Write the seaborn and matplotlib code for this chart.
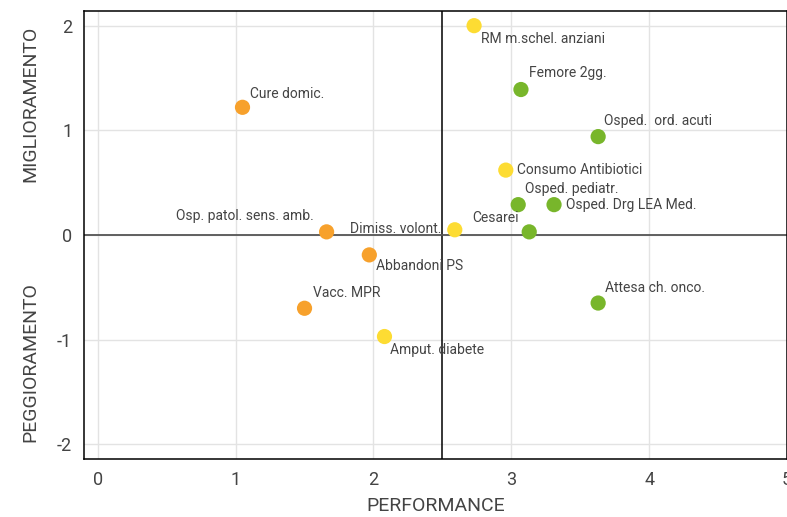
import matplotlib
matplotlib.use("Agg")
import matplotlib.pyplot as plt
import pandas as pd
import seaborn as sns

# dati
indicatori = [
    "Cure domic.", "Osp. patol. sens. amb.", "Dimiss. volont.", "Abbandoni PS",
    "Vacc. MPR", "Amput. diabete", "RM m.schel. anziani", "Femore 2gg.",
    "Osped.  ord. acuti", "Consumo Antibiotici", "Osped. pediatr.",
    "Osped. Drg LEA Med.", "Cesarei", "Attesa ch. onco.",
]
performance = [1.05, 1.66, 2.59, 1.97, 1.50, 2.08, 2.73, 3.07, 3.63, 2.96, 3.05, 3.31, 3.13, 3.63]
variazione = [1.22, 0.03, 0.05, -0.19, -0.70, -0.97, 2.00, 1.39, 0.94, 0.62, 0.29, 0.29, 0.03, -0.65]
fascia = ["bassa", "bassa", "media", "bassa", "bassa", "media", "media", "alta",
          "alta", "media", "alta", "alta", "alta", "alta"]

colori = {"bassa": "#F7A12C", "media": "#FDDC33", "alta": "#78B62B"}

# offset etichette in pixel (dx, dy, allineamento)
offset = {
    "Cure domic.": (8, 13, "left"),
    "Osp. patol. sens. amb.": (-13, 16, "right"),
    "Dimiss. volont.": (-13, 1, "right"),
    "Abbandoni PS": (7, -11, "left"),
    "Vacc. MPR": (8, 15, "left"),
    "Amput. diabete": (6, -13, "left"),
    "RM m.schel. anziani": (7, -13, "left"),
    "Femore 2gg.": (8, 17, "left"),
    "Osped.  ord. acuti": (6, 16, "left"),
    "Consumo Antibiotici": (11, 0, "left"),
    "Osped. pediatr.": (7, 16, "left"),
    "Osped. Drg LEA Med.": (12, 0, "left"),
    "Cesarei": (-10, 14, "right"),
    "Attesa ch. onco.": (7, 15, "left"),
}

df = pd.DataFrame({"nome": indicatori, "x": performance, "y": variazione, "fascia": fascia})

sns.set_style("white")
plt.rcParams["font.family"] = ["Roboto", "DejaVu Sans"]
testo = "#444444"

fig = plt.figure(figsize=(7.87, 5.17), dpi=100)
ax = fig.add_axes([0.1067, 0.1122, 0.8933, 0.8665])

ax.grid(True, color="#e3e3e3", linewidth=1, zorder=0)
ax.axvline(2.5, color="black", linewidth=1.1, zorder=1)
ax.axhline(0, color="#555555", linewidth=1.3, zorder=1)

sns.scatterplot(data=df, x="x", y="y", hue="fascia", palette=colori, s=120,
                edgecolor="none", legend=False, ax=ax, zorder=3)

for _, r in df.iterrows():
    dx, dy, ha = offset[r["nome"]]
    ax.annotate(r["nome"], (r["x"], r["y"]), xytext=(dx * 0.72, dy * 0.72),
                textcoords="offset points", ha=ha, va="center",
                fontsize=10, color=testo, zorder=4)

ax.set_xlim(-0.1, 5)
ax.set_ylim(-2.14, 2.14)
ax.set_xticks([0, 1, 2, 3, 4, 5])
ax.set_yticks([-2, -1, 0, 1, 2])
ax.set_yticklabels(["-2", "-1", "0", "1", "2"])
ax.tick_params(axis="both", direction="out", length=5, width=1, colors="#333333",
               labelsize=13, labelcolor=testo)
for sp in ax.spines.values():
    sp.set_color("black")
    sp.set_linewidth(1.1)

ax.set_xlabel("PERFORMANCE", fontsize=14, color=testo, labelpad=6)
ax.set_ylabel("")
fig.text(0.038, 0.80, "MIGLIORAMENTO", rotation=90, ha="center", va="center",
         fontsize=14, color=testo)
fig.text(0.038, 0.30, "PEGGIORAMENTO", rotation=90, ha="center", va="center",
         fontsize=14, color=testo)

fig.savefig("out.png", dpi=100)
